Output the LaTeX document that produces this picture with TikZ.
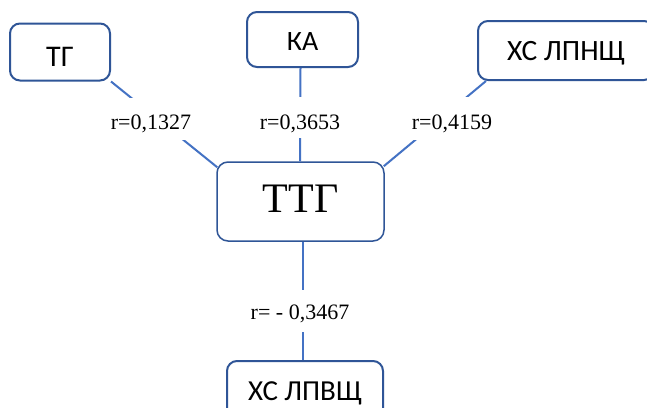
\documentclass[tikz,border=0pt]{standalone}
\usepackage{fontspec}
\setmainfont{Liberation Serif}
\newfontfamily\boxfont{Carlito}
\usetikzlibrary{calc}
\definecolor{boxblue}{HTML}{2F5597}
\definecolor{lineblue}{HTML}{4472C4}
\tikzset{
  box/.style={draw=boxblue, line width=2pt, rounded corners=10pt, fill=white,
    inner sep=0pt, text depth=0pt, font=\boxfont\fontsize{29}{32}\selectfont},
  centerbox/.style={draw=boxblue, line width=1.5pt, rounded corners=11pt, fill=white,
    inner sep=0pt, text depth=0pt, font=\fontsize{42}{46}\selectfont},
  conn/.style={draw=lineblue, line width=2pt},
  rlabel/.style={fill=white, inner sep=0pt, text depth=0pt, font=\fontsize{22}{24}\selectfont}
}
\begin{document}
\begin{tikzpicture}[x=1pt,y=-1pt]
\clip (0,0) rectangle (647,407);
\fill[white] (0,0) rectangle (647,407);
\node[box, font=\boxfont\fontsize{30}{32}\selectfont, text height=29pt, minimum width=100, minimum height=57] (tg) at (60,52) {ТГ};
\node[box, font=\boxfont\fontsize{28}{32}\selectfont, text height=22pt, minimum width=111, minimum height=55] (ka) at (302.5,39.5) {КА};
\node[box, font=\boxfont\fontsize{29.5}{32}\selectfont, text height=19pt, minimum width=176, minimum height=59] (lpn) at (566,50.5) {ХС ЛПНЩ};
\node[centerbox, text height=22.4pt, minimum width=167, minimum height=79] (ttg) at (300.5,201.5) {ТТГ};
\node[box, text height=20pt, minimum width=156, minimum height=58] (lpv) at (305,390) {ХС ЛПВЩ};
% connectors
\draw[conn] (tg.south east) -- ($(ttg.north west)+(1,6)$);
\draw[conn] ($(ka.south)+(-2,0)$) -- ($(ttg.north)+(-0.5,0)$);
\draw[conn] ($(lpn.south west)+(9,0)$) -- ($(ttg.north east)+(-1,5)$);
\draw[conn] ($(ttg.south)+(2.5,0)$) -- ($(lpv.north)+(-2,0)$);
% labels
\node[rlabel, text height=20pt, minimum width=92, minimum height=42] (l1) at (151,119) {r=0,1327};
\node[rlabel, text height=23pt, minimum width=92, minimum height=41] (l2) at (300,117.5) {r=0,3653};
\node[rlabel, text height=21pt, minimum width=92, minimum height=43] (l3) at (452,118.5) {r=0,4159};
\node[rlabel, text height=16pt, minimum width=108, minimum height=42] (l4) at (300,311) {r= - 0,3467};
\end{tikzpicture}
\end{document}
